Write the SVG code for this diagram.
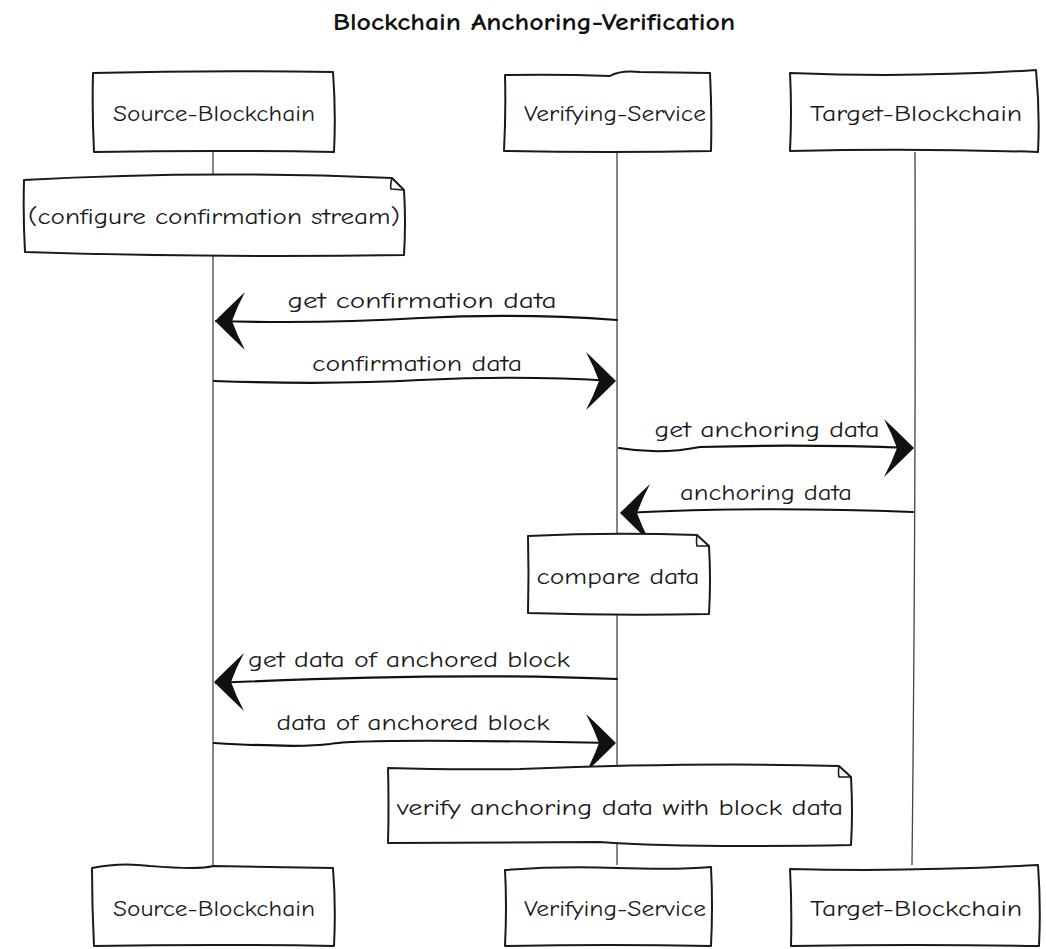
<svg xmlns="http://www.w3.org/2000/svg" width="1046" height="949" viewBox="0 0 1046 949">
<style>
  .bg { fill: #ffffff; }
  .box { fill: #ffffff; stroke: #1a1a1a; stroke-width: 2; stroke-linejoin: round; }
  .fold { fill: none; stroke: #1a1a1a; stroke-width: 1.6; }
  .life { fill: none; stroke: #444; stroke-width: 1.3; }
  .msg { fill: none; stroke: #111; stroke-width: 2.2; stroke-linecap: round; }
  .head { fill: #111; }
  .t { font-family: "Comic Neue", "Liberation Sans", "DejaVu Sans", sans-serif; font-size: 23px; fill: #1a1a1a; text-anchor: middle; }
  .title { font-family: "Comic Neue", "Liberation Sans", "DejaVu Sans", sans-serif; font-size: 24px; font-weight: bold; fill: #111; text-anchor: middle; }
</style>
<defs>
  <path id="headL" class="head" d="M0,0 Q14,-14 30,-29 Q22,-14 17,0 Q22,14 30,29 Q14,14 0,0 Z"/>
  <path id="headR" class="head" d="M0,0 Q-14,-14 -30,-29 Q-22,-14 -17,0 Q-22,14 -30,29 Q-14,14 0,0 Z"/>
</defs>
<rect class="bg" x="0" y="0" width="1046" height="949"/>

<text class="title" x="534" y="30" textLength="402" lengthAdjust="spacingAndGlyphs">Blockchain Anchoring-Verification</text>

<g id="lifelines">
  <path class="life" d="M213,152 L213,865"/>
  <path class="life" d="M617,152 L617,865"/>
  <path class="life" d="M915,152 Q916,500 912,865"/>
</g>

<g id="src-top">
  <path class="box" d="M93,73 Q210,70 333,72 Q336,112 334,152 Q215,150 94,152 Q92,112 93,73 Z"/>
  <text class="t" x="214" y="121" textLength="202" lengthAdjust="spacingAndGlyphs">Source-Blockchain</text>
</g>
<g id="ver-top">
  <path class="box" d="M505,75 Q560,74 610,76 Q620,70 640,72 L710,73 Q712,112 711,151 Q610,153 504,151 Q506,112 505,75 Z"/>
  <text class="t" x="615" y="121" textLength="182" lengthAdjust="spacingAndGlyphs">Verifying-Service</text>
</g>
<g id="tgt-top">
  <path class="box" d="M790,73 Q915,78 1036,70 Q1040,112 1038,152 Q915,148 790,151 Q792,112 790,73 Z"/>
  <text class="t" x="916" y="121" textLength="212" lengthAdjust="spacingAndGlyphs">Target-Blockchain</text>
</g>

<g id="note-configure">
  <path class="box" d="M24,180 Q200,170 392,178 L404,190 Q406,222 404,255 Q210,258 25,252 Q23,216 24,180 Z"/>
  <path class="fold" d="M392,178 Q390,186 391,189 L404,190"/>
  <text class="t" x="214" y="224" textLength="372" lengthAdjust="spacingAndGlyphs">(configure confirmation stream)</text>
</g>

<g id="connectors">
  <path class="msg" d="M617,320 Q520,313 420,318 Q320,324 216,321"/>
  <use href="#headL" x="215" y="321"/>
  <text class="t" x="422" y="308" textLength="269" lengthAdjust="spacingAndGlyphs">get confirmation data</text>

  <path class="msg" d="M214,381 Q330,385 420,380 Q520,375 614,381"/>
  <use href="#headR" x="616" y="381"/>
  <text class="t" x="417" y="371" textLength="210" lengthAdjust="spacingAndGlyphs">confirmation data</text>

  <path class="msg" d="M619,448 Q660,455 700,447 Q800,444 912,448"/>
  <use href="#headR" x="914" y="448"/>
  <text class="t" x="767" y="437" textLength="225" lengthAdjust="spacingAndGlyphs">get anchoring data</text>

  <path class="msg" d="M913,512 Q760,506 622,513"/>
  <use href="#headL" x="620" y="513"/>
  <text class="t" x="766" y="500" textLength="172" lengthAdjust="spacingAndGlyphs">anchoring data</text>

  <path class="msg" d="M617,679 Q450,672 216,683"/>
  <use href="#headL" x="214" y="682"/>
  <text class="t" x="409" y="667" textLength="322" lengthAdjust="spacingAndGlyphs">get data of anchored block</text>

  <path class="msg" d="M214,743 Q300,748 330,744 Q360,738 614,743"/>
  <use href="#headR" x="616" y="743"/>
  <text class="t" x="413" y="730" textLength="273" lengthAdjust="spacingAndGlyphs">data of anchored block</text>
</g>

<g id="note-compare">
  <path class="box" d="M528,536 Q610,532 697,535 L709,546 Q711,580 709,614 Q620,616 528,613 Q529,574 528,536 Z"/>
  <path class="fold" d="M697,535 Q696,542 697,546 L709,546"/>
  <text class="t" x="618" y="584" textLength="163" lengthAdjust="spacingAndGlyphs">compare data</text>
</g>

<g id="note-verify">
  <path class="box" d="M388,768 Q450,770 520,769 Q700,762 839,766 L851,777 Q853,811 851,845 Q680,848 600,842 Q500,842 388,843 Q389,805 388,768 Z"/>
  <path class="fold" d="M839,766 Q838,773 839,777 L851,777"/>
  <text class="t" x="620" y="815" textLength="446" lengthAdjust="spacingAndGlyphs">verify anchoring data with block data</text>
</g>

<g id="src-bot">
  <path class="box" d="M92,868 Q120,862 150,866 Q200,870 213,866 L333,868 Q336,906 334,946 Q215,944 94,946 Q92,906 92,868 Z"/>
  <text class="t" x="214" y="916" textLength="202" lengthAdjust="spacingAndGlyphs">Source-Blockchain</text>
</g>
<g id="ver-bot">
  <path class="box" d="M505,870 Q560,866 617,868 Q680,870 711,867 Q713,906 711,946 Q610,944 505,946 Q507,906 505,870 Z"/>
  <text class="t" x="615" y="916" textLength="182" lengthAdjust="spacingAndGlyphs">Verifying-Service</text>
</g>
<g id="tgt-bot">
  <path class="box" d="M790,869 Q915,872 1038,865 Q1041,906 1039,946 Q915,944 791,946 Q792,906 790,869 Z"/>
  <text class="t" x="916" y="916" textLength="212" lengthAdjust="spacingAndGlyphs">Target-Blockchain</text>
</g>
</svg>
